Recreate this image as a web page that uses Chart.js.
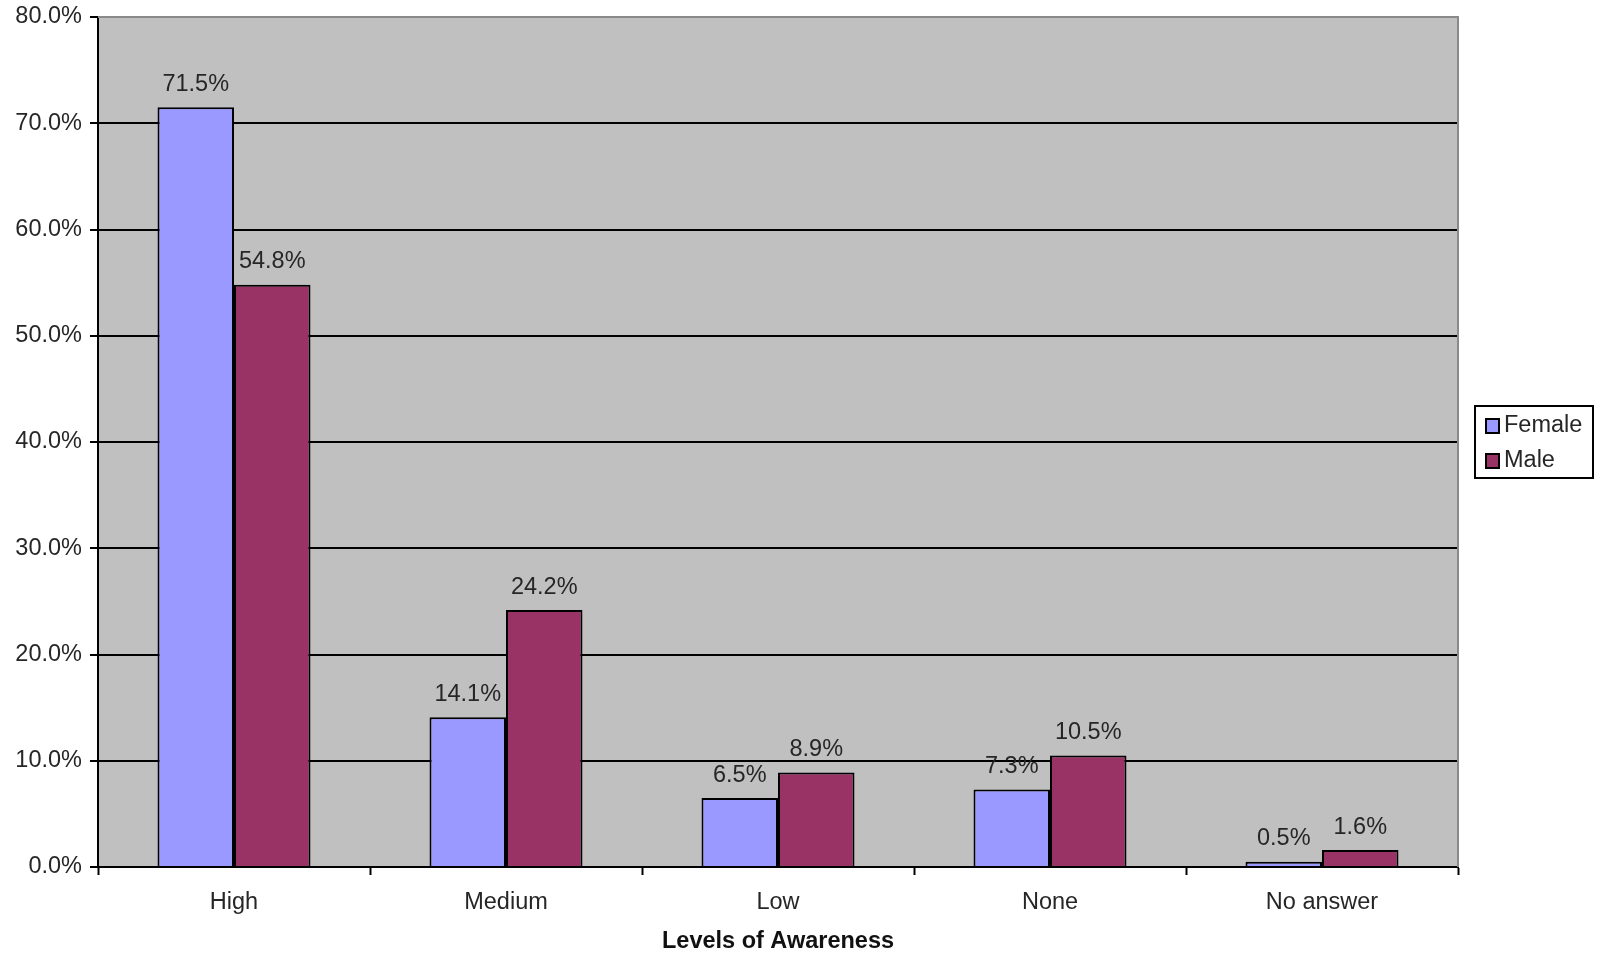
<!DOCTYPE html>
<html>
<head>
<meta charset="utf-8">
<title>Levels of Awareness</title>
<script src="https://cdn.jsdelivr.net/npm/chart.js@4/dist/chart.umd.min.js"></script>
<style>
  html, body { margin: 0; padding: 0; background: #ffffff; }
  #wrap { width: 1598px; height: 954px; position: relative; }
</style>
</head>
<body>
<div id="wrap"><canvas id="chart"></canvas></div>
<script>
// Survey results: share of respondents at each awareness level, by gender
const categories = ['High', 'Medium', 'Low', 'None', 'No answer'];
const femaleValues = [71.5, 14.1, 6.5, 7.3, 0.5];
const maleValues = [54.8, 24.2, 8.9, 10.5, 1.6];
const seriesNames = ['Female', 'Male'];
const yTicks = [0, 10, 20, 30, 40, 50, 60, 70, 80];

const FONT = '"Liberation Sans", Arial, sans-serif';
const TEXT = '#262626';
const FS = 23.5;

// Grey plot background plus the light frame on the top and right edges
const plotFrame = {
  id: 'plotFrame',
  beforeDraw(chart) {
    const { ctx, chartArea: a } = chart;
    ctx.save();
    ctx.fillStyle = '#c0c0c0';
    ctx.fillRect(a.left, a.top, a.right - a.left, a.bottom - a.top);
    ctx.restore();
  },
  afterDraw(chart) {
    const { ctx, chartArea: a } = chart;
    ctx.save();
    ctx.strokeStyle = '#8a8a8a';
    ctx.lineWidth = 2;
    ctx.beginPath();
    ctx.moveTo(a.left, a.top);
    ctx.lineTo(a.right, a.top);
    ctx.lineTo(a.right, a.bottom);
    ctx.stroke();
    ctx.restore();
  }
};

// Percentage printed above every bar
const valueLabels = {
  id: 'valueLabels',
  afterDatasetsDraw(chart) {
    const { ctx } = chart;
    ctx.save();
    ctx.font = FS + 'px ' + FONT;
    ctx.fillStyle = TEXT;
    ctx.textAlign = 'center';
    ctx.textBaseline = 'bottom';
    chart.data.datasets.forEach((ds, i) => {
      chart.getDatasetMeta(i).data.forEach((bar, j) => {
        ctx.fillText(ds.data[j].toFixed(1) + '%', bar.x, bar.y - 11);
      });
    });
    ctx.restore();
  }
};

// Boxed legend to the right of the plot
const boxedLegend = {
  id: 'boxedLegend',
  afterDraw(chart) {
    const { ctx } = chart;
    const x0 = 1475, y0 = 406, w = 118, h = 72;
    ctx.save();
    ctx.fillStyle = '#ffffff';
    ctx.fillRect(x0, y0, w, h);
    ctx.strokeStyle = '#000000';
    ctx.lineWidth = 2;
    ctx.strokeRect(x0, y0, w, h);
    ctx.font = FS + 'px ' + FONT;
    ctx.textBaseline = 'middle';
    chart.data.datasets.forEach((ds, i) => {
      const cy = y0 + 20 + i * 35;
      ctx.fillStyle = ds.backgroundColor;
      ctx.fillRect(x0 + 11, cy - 7, 13, 14);
      ctx.strokeStyle = '#000000';
      ctx.lineWidth = 2;
      ctx.strokeRect(x0 + 11, cy - 7, 13, 14);
      ctx.fillStyle = TEXT;
      ctx.fillText(ds.label, x0 + 29, cy);
    });
    ctx.restore();
  }
};

new Chart(document.getElementById('chart'), {
  type: 'bar',
  data: {
    labels: categories,
    datasets: [
      { label: seriesNames[0], data: femaleValues, backgroundColor: '#9999ff',
        borderColor: '#000000', borderWidth: 2 },
      { label: seriesNames[1], data: maleValues, backgroundColor: '#993366',
        borderColor: '#000000', borderWidth: 2 }
    ]
  },
  options: {
    responsive: true,
    maintainAspectRatio: false,
    animation: false,
    layout: { padding: { top: 17, right: 140, left: 0, bottom: 0 } },
    datasets: { bar: { categoryPercentage: 0.5625, barPercentage: 1.0 } },
    plugins: {
      legend: { display: false },
      tooltip: { enabled: false }
    },
    scales: {
      x: {
        afterFit(scale) {
          scale.height = 87;
          scale.paddingLeft = 0;
          scale.paddingRight = 0;
        },
        grid: {
          offset: true,
          drawOnChartArea: false,
          drawTicks: true,
          tickLength: 8,
          tickWidth: 2,
          tickColor: '#000000'
        },
        border: { display: true, color: '#000000', width: 2 },
        ticks: { color: TEXT, font: { family: FONT, size: FS }, padding: 13 },
        title: {
          display: true,
          text: 'Levels of Awareness',
          color: '#111111',
          font: { family: FONT, size: FS, weight: 'bold', lineHeight: 1.08 },
          padding: { top: 0, bottom: 0 }
        }
      },
      y: {
        min: 0,
        max: 80,
        afterFit(scale) {
          scale.width = 98;
          scale.paddingTop = 0;
          scale.paddingBottom = 0;
        },
        afterBuildTicks(scale) { scale.ticks = yTicks.map(v => ({ value: v })); },
        grid: {
          color: ctx => (ctx.tick && ctx.tick.value === 80 ? '#8a8a8a' : '#000000'),
          lineWidth: 2,
          drawTicks: true,
          tickLength: 8,
          tickColor: '#000000',
          tickWidth: 2
        },
        border: { display: true, color: '#000000', width: 2 },
        ticks: {
          color: TEXT,
          font: { family: FONT, size: FS },
          padding: 8,
          callback: v => Number(v).toFixed(1) + '%'
        }
      }
    }
  },
  plugins: [plotFrame, valueLabels, boxedLegend]
});
</script>
</body>
</html>
